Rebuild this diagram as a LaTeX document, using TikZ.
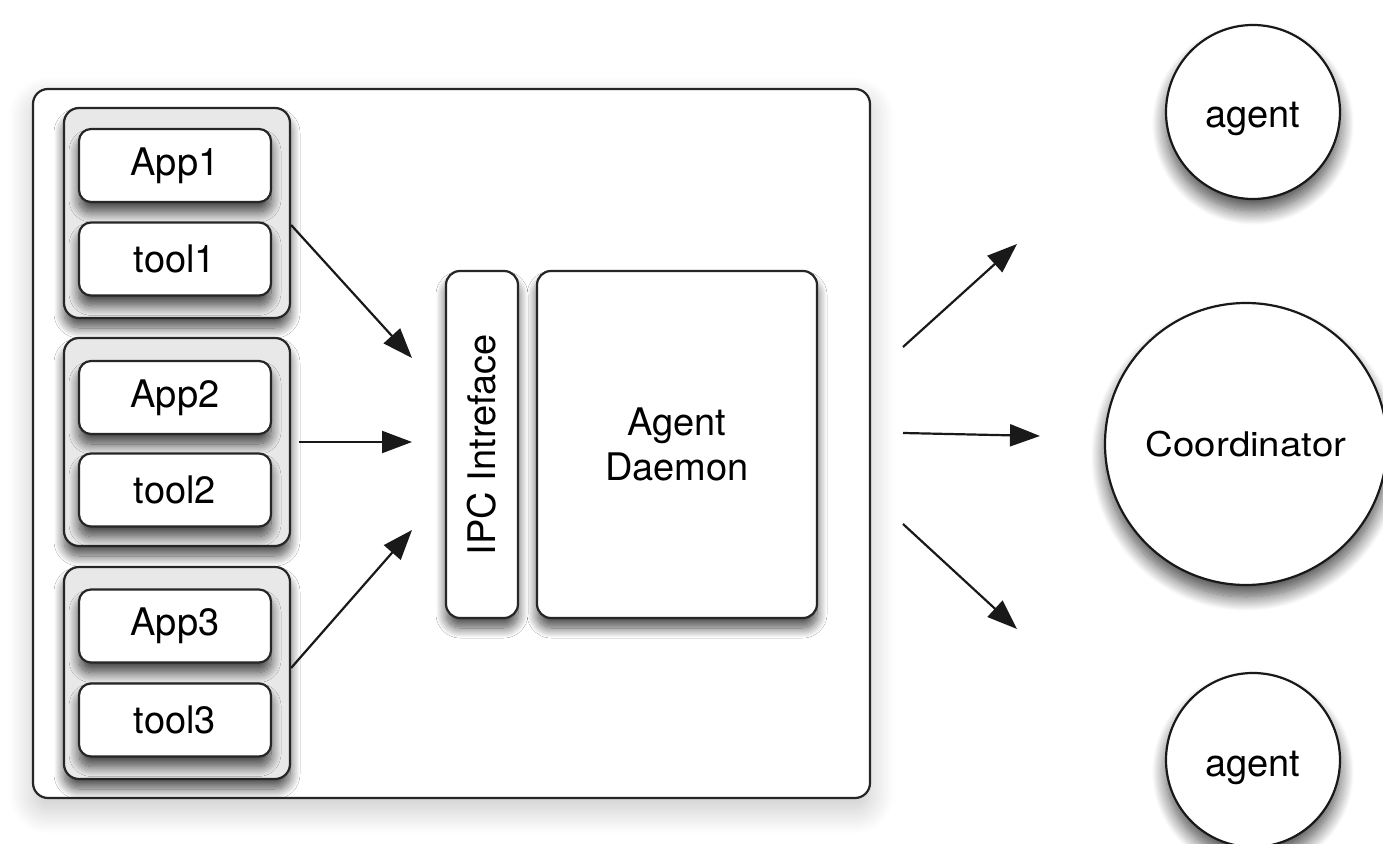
\documentclass[tikz,border=0pt]{standalone}
\usepackage{fontspec}
\setmainfont{TeX Gyre Heros}
\usetikzlibrary{arrows.meta,shadows.blur}
\begin{document}
\begin{tikzpicture}[x=0.5pt,y=-0.5pt,
  txt/.style={font=\fontsize{19pt}{22.5pt}\selectfont, text=black, align=center},
  softshadow/.style={blur shadow={shadow xshift=0pt, shadow yshift=-5pt,
      shadow blur radius=5pt, shadow blur steps=16, shadow opacity=70}},
  outerbox/.style={draw=black!85, line width=1.1pt, rounded corners=7.5pt, fill=white,
      blur shadow={shadow xshift=0pt, shadow yshift=-6pt, shadow blur radius=12pt,
      shadow blur steps=16, shadow opacity=22}},
  groupbox/.style={draw=black!85, line width=1.1pt, rounded corners=7.5pt, fill=black!9,
      minimum width=113pt, softshadow},
  appbox/.style={txt, draw=black!85, line width=1.1pt, rounded corners=6pt, fill=white,
      minimum width=96pt, minimum height=36.5pt, inner sep=0pt, softshadow},
  bigbox/.style={txt, draw=black!85, line width=1.1pt, rounded corners=7pt, fill=white,
      minimum height=173.5pt, inner sep=0pt, softshadow},
  roundnode/.style={txt, circle, draw=black!90, line width=1.1pt, fill=white, inner sep=0pt,
      blur shadow={shadow xshift=0pt, shadow yshift=-6pt, shadow blur radius=7pt,
      shadow blur steps=16, shadow opacity=70}},
  arr/.style={line width=1.1pt, draw=black!90, -{Triangle[length=15pt,width=11pt]}}
]
\useasboundingbox (0,0) rectangle (1383,844);

% host machine
\node[outerbox, minimum width=418.5pt, minimum height=354.5pt] (host) at (451.5,443.5) {};

% application groups
\node[groupbox, minimum height=105pt] (g1) at (177,213) {};
\node[groupbox, minimum height=104pt] (g2) at (177,442) {};
\node[groupbox, minimum height=106pt] (g3) at (177,673) {};

\node[appbox] (app1)  at (175,165.5) {App1};
\node[appbox] (tool1) at (175,259)   {tool1};
\node[appbox] (app2)  at (175,397.5) {App2};
\node[appbox] (tool2) at (175,490)   {tool2};
\node[appbox] (app3)  at (175,626)   {App3};
\node[appbox] (tool3) at (175,720)   {tool3};

% daemon side
\node[bigbox, minimum width=36pt] (ipc) at (482,444.5) {\rotatebox{90}{IPC Intreface}};
\node[bigbox, minimum width=140pt] (daemon) at (677,444.5) {Agent\\Daemon};

% remote peers
\node[roundnode, minimum size=87pt]  (agent1) at (1253,112) {\raisebox{-8pt}[0pt][0pt]{agent}};
\node[roundnode, minimum size=141pt] (coord)  at (1246,444)
  {\fontsize{17pt}{20pt}\selectfont\scalebox{1.13}[1]{Coordinator}};
\node[roundnode, minimum size=87pt]  (agent2) at (1253,760) {\raisebox{-8.5pt}[0pt][0pt]{agent}};

% arrow ends
\coordinate (in1) at (412,358);
\coordinate (in2) at (412,442);
\coordinate (in3) at (412,530);
\coordinate (out1s) at (903,347);
\coordinate (out2s) at (903,433);
\coordinate (out3s) at (903,524);
\coordinate (out1e) at (1017,244);
\coordinate (out2e) at (1040,436);
\coordinate (out3e) at (1017,629);

\draw[arr] ([yshift=-6pt]g1.east) -- (in1);
\draw[arr] ([xshift=4pt]g2.east) -- (in2);
\draw[arr] ([yshift=2.5pt]g3.east) -- (in3);

\draw[arr] (out1s) -- (out1e);
\draw[arr] (out2s) -- (out2e);
\draw[arr] (out3s) -- (out3e);
\end{tikzpicture}
\end{document}
